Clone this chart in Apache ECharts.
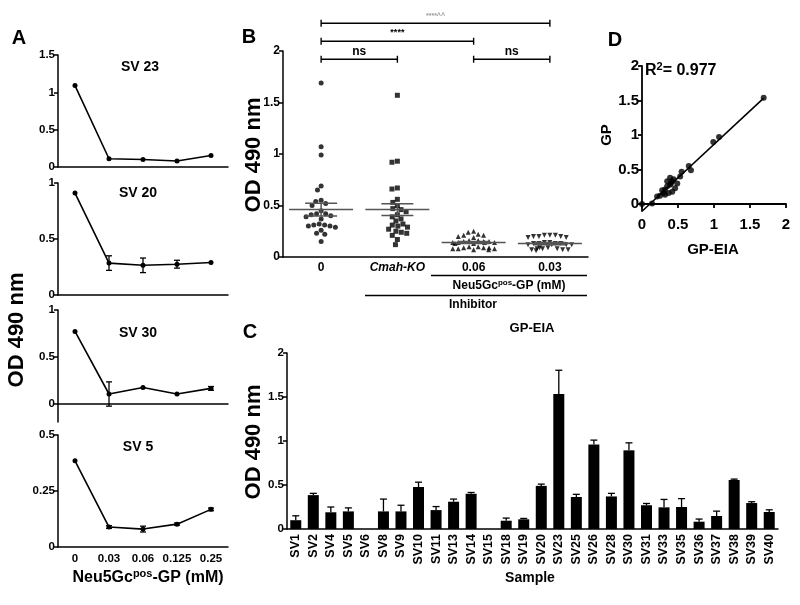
<!DOCTYPE html>
<html><head><meta charset="utf-8">
<script src="https://cdn.jsdelivr.net/npm/echarts@6/dist/echarts.min.js"></script>
<style>html,body{margin:0;padding:0;background:#fff}#c{width:800px;height:605px}</style>
</head><body><div id="c"></div>
<script>
// ---------- Panel A data ----------
const aDoses = ['0', '0.03', '0.06', '0.125', '0.25'];
const aTitles = ['SV 23', 'SV 20', 'SV 30', 'SV 5'];
const aSV23 = [1.09, 0.11, 0.10, 0.08, 0.155];
const aSV23err = [0, 0, 0, 0, 0];
const aSV20 = [0.91, 0.285, 0.265, 0.275, 0.29];
const aSV20err = [0, 0.065, 0.065, 0.035, 0];
const aSV30 = [0.77, 0.10, 0.17, 0.10, 0.16];
const aSV30err = [0, 0.13, 0, 0, 0.02];
const aSV5 = [0.385, 0.089, 0.08, 0.102, 0.168];
const aSV5err = [0, 0.006, 0.013, 0.005, 0.006];
const aTicks1 = [0, 0.5, 1, 1.5];
const aTicks2 = [0, 0.5, 1];
const aTicks3 = [0, 0.5, 1];
const aTicks4 = [0, 0.25, 0.5];

// ---------- Panel B data ----------
const bCats = ['0', 'Cmah-KO', '0.06', '0.03'];
const bCtrl = [1.69,1.07,0.99,0.69,0.65,0.55,0.54,0.52,0.50,0.45,0.42,0.42,0.41,0.40,0.39,0.37,0.32,0.31,0.31,0.30,0.30,0.29,0.26,0.23,0.22,0.15];
const bKO = [1.57,0.93,0.92,0.67,0.66,0.56,0.53,0.50,0.47,0.46,0.44,0.41,0.39,0.37,0.35,0.32,0.31,0.30,0.29,0.27,0.25,0.24,0.23,0.21,0.17,0.12];
const bInh006 = [0.25,0.24,0.22,0.21,0.21,0.20,0.19,0.16,0.16,0.15,0.15,0.15,0.14,0.14,0.14,0.14,0.13,0.13,0.10,0.10,0.09,0.09,0.09,0.08,0.08,0.08,0.07,0.07];
const bInh003 = [0.21,0.21,0.21,0.20,0.20,0.20,0.19,0.19,0.14,0.14,0.13,0.13,0.13,0.13,0.12,0.12,0.12,0.12,0.09,0.09,0.08,0.08,0.08,0.07,0.07,0.07,0.06];
const bMean = [0.46, 0.46, 0.14, 0.13];
const bSem = [0.063, 0.058, 0.01, 0.01];
const bSig = [[0, 1, 'ns'], [2, 3, 'ns'], [0, 2, '****'], [0, 3, '****^^']];
const bTicks = [0, 0.5, 1, 1.5, 2];

// ---------- Panel C data ----------
const cSamples = ['SV1','SV2','SV4','SV5','SV6','SV8','SV9','SV10','SV11','SV13','SV14','SV15','SV18','SV19','SV20','SV23','SV25','SV26','SV28','SV30','SV31','SV33','SV35','SV36','SV37','SV38','SV39','SV40'];
const cValues = [0.10,0.385,0.19,0.20,0,0.20,0.20,0.477,0.215,0.31,0.40,0,0.094,0.11,0.49,1.534,0.364,0.96,0.37,0.894,0.27,0.246,0.25,0.083,0.148,0.557,0.295,0.193];
const cErr = [0.05,0.02,0.06,0.04,0,0.14,0.07,0.055,0.04,0.03,0.015,0,0.03,0.01,0.02,0.27,0.03,0.05,0.035,0.085,0.02,0.09,0.095,0.03,0.055,0.01,0.015,0.025];
const cTicks = [0, 0.5, 1, 1.5, 2];

// ---------- Panel D data ----------
const dEIA = [1.69,1.07,0.99,0.68,0.65,0.55,0.53,0.49,0.46,0.44,0.42,0.42,0.40,0.39,0.39,0.37,0.35,0.35,0.32,0.32,0.30,0.28,0.25,0.21,0.14,0];
const dGP  = [1.54,0.97,0.90,0.49,0.55,0.47,0.40,0.30,0.23,0.36,0.33,0.18,0.30,0.28,0.38,0.16,0.26,0.33,0.21,0.135,0.16,0.20,0.12,0.11,0.01,0];
const dR2 = '0.977';
const dTicks = [0, 0.5, 1, 1.5, 2];

// ---------- helpers ----------
const FONT = '"Liberation Sans", Arial, sans-serif';
const chart = echarts.init(document.getElementById('c'), null, {renderer: 'canvas'});

function yAx(grid, min, max, ticks, fs, margin) {
  return {
    type: 'value', gridIndex: grid, min: min, max: max,
    splitLine: {show: false},
    axisLine: {show: true, lineStyle: {color: '#000', width: 1.5}},
    axisTick: {show: true, length: 4, lineStyle: {color: '#000', width: 1.5}, customValues: ticks},
    axisLabel: {customValues: ticks, color: '#000', fontWeight: 'bold', fontSize: fs, fontFamily: FONT, margin: margin,
      hideOverlap: false, formatter: v => String(+v.toFixed(3))}
  };
}

function errItem(both, capW, color) {
  return function (params, api) {
    const x = api.value(0), y = api.value(1), e = api.value(2);
    if (!e) return null;
    const hi = api.coord([x, y + e]);
    const lo = api.coord([x, both ? y - e : y]);
    const st = {stroke: color, lineWidth: 1.3};
    const ch = [
      {type: 'line', shape: {x1: hi[0], y1: hi[1], x2: lo[0], y2: lo[1]}, style: st},
      {type: 'line', shape: {x1: hi[0] - capW, y1: hi[1], x2: hi[0] + capW, y2: hi[1]}, style: st}
    ];
    if (both) ch.push({type: 'line', shape: {x1: lo[0] - capW, y1: lo[1], x2: lo[0] + capW, y2: lo[1]}, style: st});
    return {type: 'group', children: ch};
  };
}

// ---------- layout ----------
const aGrids = [
  {left: 58, top: 55, width: 170, height: 112},
  {left: 58, top: 183, width: 170, height: 112},
  {left: 58, top: 310, width: 170, height: 112},
  {left: 58, top: 435, width: 170, height: 112}
];
const gB = {left: 283, top: 51, width: 305, height: 206};
const gC = {left: 287, top: 353, width: 491, height: 176};
const gD = {left: 642, top: 66, width: 144, height: 145};

const aSeries = [[aSV23, aSV23err], [aSV20, aSV20err], [aSV30, aSV30err], [aSV5, aSV5err]];
const aYRanges = [[0, 1.5, aTicks1], [0, 1, aTicks2], [-0.2, 1, aTicks3], [0, 0.5, aTicks4]];

const xAxes = [], yAxes = [], series = [];
aGrids.forEach((g, i) => {
  xAxes.push({
    type: 'category', gridIndex: i, data: aDoses, boundaryGap: true,
    axisLine: {lineStyle: {color: '#000', width: 1.5}},
    axisTick: {alignWithLabel: true, interval: 0, length: 4, lineStyle: {color: '#000', width: 1.5}},
    axisLabel: {show: i === 3, interval: 0, hideOverlap: false, color: '#000', fontWeight: 'bold', fontSize: 11.5, fontFamily: FONT, margin: 6}
  });
  const r = aYRanges[i];
  yAxes.push(yAx(i, r[0], r[1], r[2], 11.5, 3));
  series.push({
    type: 'line', xAxisIndex: i, yAxisIndex: i, data: aSeries[i][0],
    symbol: 'circle', symbolSize: 5, showSymbol: true,
    lineStyle: {color: '#000', width: 1.6}, itemStyle: {color: '#000'}, animation: false, z: 3
  });
  series.push({
    type: 'custom', xAxisIndex: i, yAxisIndex: i, renderItem: errItem(true, 3, '#000'),
    data: aSeries[i][0].map((v, k) => [k, v, aSeries[i][1][k]]), encode: {x: 0, y: 1}, z: 4, animation: false, clip: false
  });
});

// Panel B axes (index 4)
xAxes.push({
  type: 'category', gridIndex: 4, data: bCats, boundaryGap: true,
  jitter: 44, jitterOverlap: false, jitterMargin: 0.5,
  axisLine: {lineStyle: {color: '#000', width: 1.5}},
  axisTick: {show: false},
  axisLabel: {interval: 0, hideOverlap: false, color: '#000', fontWeight: 'bold', fontSize: 12, fontFamily: FONT, margin: 5,
    formatter: v => v === 'Cmah-KO' ? '{i|' + v + '}' : v,
    rich: {i: {fontStyle: 'italic', fontWeight: 'bold', fontSize: 12, fontFamily: FONT, color: '#000'}}}
});
yAxes.push(yAx(4, 0, 2, bTicks, 12, 3));
const bGroups = [bCtrl, bKO, bInh006, bInh003];
const bSymbols = [['circle', 0], ['rect', 0], ['triangle', 0], ['triangle', 180]];
bGroups.forEach((grp, gi) => {
  series.push({
    type: 'scatter', xAxisIndex: 4, yAxisIndex: 4,
    data: grp.map(v => [gi, v]),
    symbol: bSymbols[gi][0], symbolRotate: bSymbols[gi][1], symbolSize: 5,
    itemStyle: {color: '#000'}, animation: false, z: 3
  });
});
// mean +/- SEM
series.push({
  type: 'custom', xAxisIndex: 4, yAxisIndex: 4, animation: false, z: 5,
  data: bMean.map((m, i) => [i, m, bSem[i]]), encode: {x: 0, y: 1},
  renderItem: function (params, api) {
    const x = api.value(0), m = api.value(1), s = api.value(2);
    const c = api.coord([x, m]), hi = api.coord([x, m + s]), lo = api.coord([x, m - s]);
    const st = {stroke: '#555', lineWidth: 1.5};
    return {type: 'group', children: [
      {type: 'line', shape: {x1: c[0] - 32, y1: c[1], x2: c[0] + 32, y2: c[1]}, style: st},
      {type: 'line', shape: {x1: hi[0], y1: hi[1], x2: lo[0], y2: lo[1]}, style: st},
      {type: 'line', shape: {x1: hi[0] - 16, y1: hi[1], x2: hi[0] + 16, y2: hi[1]}, style: st},
      {type: 'line', shape: {x1: lo[0] - 16, y1: lo[1], x2: lo[0] + 16, y2: lo[1]}, style: st}
    ]};
  }
});
// significance brackets
series.push({
  type: 'custom', xAxisIndex: 4, yAxisIndex: 4, animation: false, clip: false, z: 5,
  data: bSig.map(s => [s[0], s[1], s[1] - s[0]]),
  encode: {x: [0, 1]},
  renderItem: function (params, api) {
    const i1 = api.value(0), i2 = api.value(1), span = api.value(2);
    const lvl = span - 1;
    const yv = 1.92 + 0.175 * lvl;
    const p1 = api.coord([i1, yv]), p2 = api.coord([i2, yv]);
    const st = {stroke: '#000', lineWidth: 1.4};
    const label = bSig[params.dataIndex][2];
    const fs = [12, 9, 7][lvl];
    const fill = lvl === 2 ? '#999' : '#000';
    return {type: 'group', children: [
      {type: 'line', shape: {x1: p1[0], y1: p1[1], x2: p2[0], y2: p2[1]}, style: st},
      {type: 'line', shape: {x1: p1[0], y1: p1[1] - 3.5, x2: p1[0], y2: p1[1] + 3.5}, style: st},
      {type: 'line', shape: {x1: p2[0], y1: p2[1] - 3.5, x2: p2[0], y2: p2[1] + 3.5}, style: st},
      {type: 'text', style: {text: label, x: (p1[0] + p2[0]) / 2, y: p1[1] - (lvl === 0 ? 2 : 4), align: 'center', verticalAlign: 'bottom',
        fontSize: fs, fontWeight: 'bold', fontFamily: FONT, fill: fill}}
    ]};
  }
});

// Panel C axes (index 5)
xAxes.push({
  type: 'category', gridIndex: 5, data: cSamples, boundaryGap: true,
  axisLine: {lineStyle: {color: '#000', width: 1.5}},
  axisTick: {alignWithLabel: true, interval: 0, length: 3, lineStyle: {color: '#000', width: 1.2}},
  axisLabel: {interval: 0, hideOverlap: false, rotate: 90, color: '#000', fontWeight: 'bold', fontSize: 12.5, fontFamily: FONT, margin: 5}
});
yAxes.push(yAx(5, 0, 2, cTicks, 11.5, 3));
series.push({
  type: 'bar', xAxisIndex: 5, yAxisIndex: 5, data: cValues, barWidth: 11,
  itemStyle: {color: '#000'}, animation: false, z: 3
});
series.push({
  type: 'custom', xAxisIndex: 5, yAxisIndex: 5, renderItem: errItem(false, 3.5, '#000'), animation: false, z: 4,
  data: cValues.map((v, k) => [k, v, cErr[k]]), encode: {x: 0, y: 1}
});

// Panel D axes (index 6)
xAxes.push({
  type: 'value', gridIndex: 6, min: 0, max: 2, interval: 0.5, splitLine: {show: false},
  axisLine: {lineStyle: {color: '#000', width: 1.8}},
  axisTick: {length: 4, lineStyle: {color: '#000', width: 1.8}},
  axisLabel: {color: '#000', fontWeight: 'bold', fontSize: 15, fontFamily: FONT, margin: 6, hideOverlap: false}
});
yAxes.push(yAx(6, -0.1, 2, dTicks, 15, 3));
yAxes[6].axisLine.lineStyle.width = 1.8;
yAxes[6].axisTick.lineStyle.width = 1.8;
series.push({
  type: 'scatter', xAxisIndex: 6, yAxisIndex: 6, data: dEIA.map((x, i) => [x, dGP[i]]),
  symbol: 'circle', symbolSize: 6, itemStyle: {color: '#000'}, animation: false, z: 3, clip: false
});
// least-squares fit line computed from the data
(function () {
  const n = dEIA.length;
  const mx = dEIA.reduce((a, b) => a + b, 0) / n, my = dGP.reduce((a, b) => a + b, 0) / n;
  let sxy = 0, sxx = 0;
  for (let i = 0; i < n; i++) { sxy += (dEIA[i] - mx) * (dGP[i] - my); sxx += (dEIA[i] - mx) ** 2; }
  const m = sxy / sxx, b = my - m * mx;
  const xmax = Math.max(...dEIA);
  const x0 = Math.max(0, (-0.1 - b) / m);
  series.push({
    type: 'line', xAxisIndex: 6, yAxisIndex: 6, data: [[x0, m * x0 + b], [xmax, m * xmax + b]],
    symbol: 'none', lineStyle: {color: '#000', width: 1.6}, animation: false, z: 2
  });
})();

const grids = aGrids.concat([gB, gC, gD]).map(g => Object.assign({containLabel: false}, g));

function txt(x, y, text, fs, extra) {
  return Object.assign({type: 'text', x: x, y: y, style: Object.assign({text: text, fontSize: fs, fontWeight: 'bold', fontFamily: FONT, fill: '#000', align: 'center', verticalAlign: 'middle'}, (extra && extra.style) || {})}, extra ? {rotation: extra.rotation || 0} : {});
}
function supRich(fs) {
  return {
    a: {fontSize: fs, fontWeight: 'bold', fontFamily: FONT, fill: '#000'},
    s: {fontSize: Math.round(fs * 0.68), fontWeight: 'bold', fontFamily: FONT, fill: '#000', padding: [0, 0, Math.round(fs * 0.55), 0]}
  };
}

const graphics = [
  txt(19, 38, 'A', 20), txt(249, 37, 'B', 20), txt(250, 332, 'C', 20), txt(615, 40, 'D', 20),
  txt(140, 67, aTitles[0], 14), txt(138, 193, aTitles[1], 14), txt(138, 333, aTitles[2], 14), txt(138, 447, aTitles[3], 14),
  txt(17, 330, 'OD 490 nm', 22, {rotation: Math.PI / 2}),
  txt(254, 155, 'OD 490 nm', 22, {rotation: Math.PI / 2}),
  txt(254, 442, 'OD 490 nm', 22, {rotation: Math.PI / 2}),
  {type: 'text', x: 148, y: 578, style: {text: '{a|Neu5Gc}{s|pos}{a|-GP (mM)}', rich: supRich(16), align: 'center', verticalAlign: 'middle'}},
  {type: 'text', x: 509, y: 286, style: {text: '{a|Neu5Gc}{s|pos}{a|-GP (mM)}', rich: supRich(12), align: 'center', verticalAlign: 'middle'}},
  txt(473, 305, 'Inhibitor', 12),
  {type: 'line', shape: {x1: 431, y1: 275.5, x2: 587, y2: 275.5}, style: {stroke: '#000', lineWidth: 1.3}},
  {type: 'line', shape: {x1: 365, y1: 295.5, x2: 587, y2: 295.5}, style: {stroke: '#000', lineWidth: 1.3}},
  txt(532, 328, 'GP-EIA', 13),
  txt(530, 578, 'Sample', 14),
  txt(607, 135, 'GP', 15, {rotation: Math.PI / 2}),
  txt(713, 250, 'GP-EIA', 15),
  {type: 'text', x: 645, y: 71, style: {text: '{a|R}{s|2}{a|= ' + dR2 + '}', rich: supRich(16), align: 'left', verticalAlign: 'middle'}}
];

chart.setOption({
  animation: false,
  backgroundColor: '#fff',
  grid: grids,
  xAxis: xAxes,
  yAxis: yAxes,
  series: series,
  graphic: graphics
});
</script></body></html>
